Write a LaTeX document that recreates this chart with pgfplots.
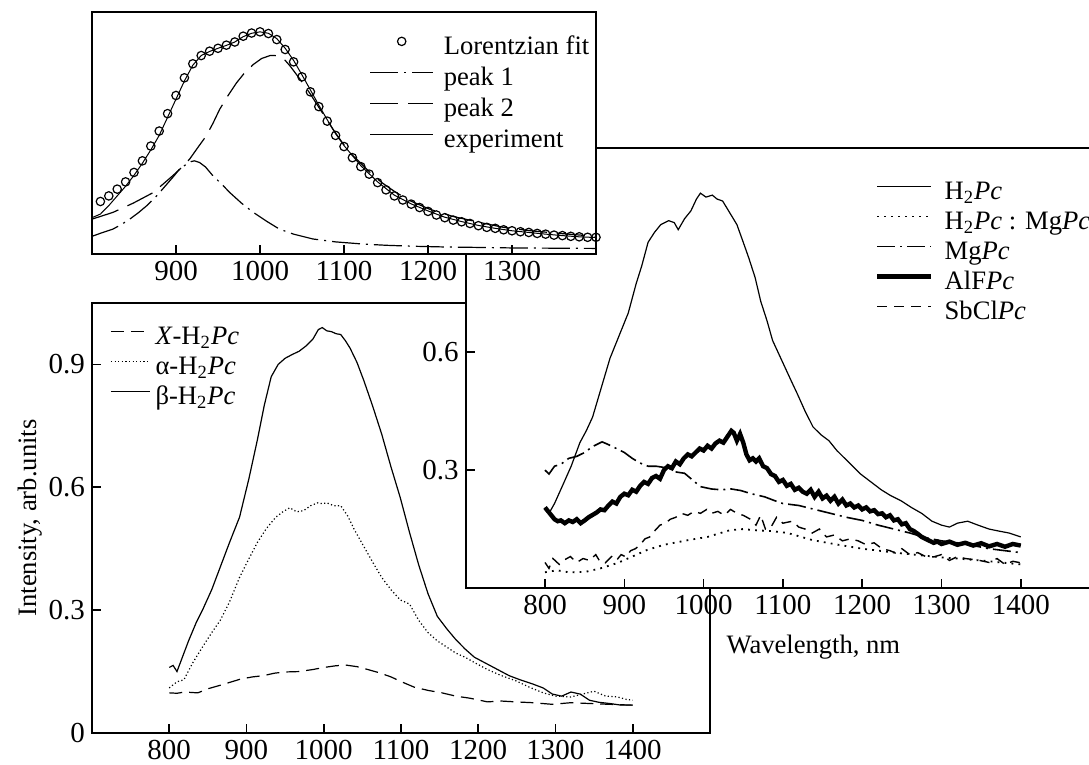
\documentclass[border=0pt]{standalone}
\usepackage{fontspec}
\setmainfont{Liberation Serif}
\usepackage{pgfplots}
\pgfplotsset{compat=1.18}
\newcommand\ff{\fontsize{13.3}{16}\selectfont}
\newcommand\tf{\fontsize{14.5}{17}\selectfont}
\newcommand\Pc{\textit{Pc}}
\newcommand\HH{H\textsubscript{2}\Pc}

\pgfplotsset{
  panel/.style={
    scale only axis, anchor=south west,
    axis line style={line width=1.1pt},
    major tick style={line width=0.8pt, black},
    major tick length=4.5pt,
    tick align=inside,
    xtick pos=bottom, ytick pos=left,
    tick label style={font=\tf},
    label style={font=\ff},
    /pgf/number format/assume math mode=true,
    /pgf/number format/1000 sep={},
    axis background/.style={fill=white},
    legend cell align=left,
    legend style={draw=none, fill=none, font=\ff, anchor=north west,
      inner sep=0pt, row sep=2pt,
      nodes={inner sep=0.5pt, text height=9pt, text depth=3pt}},
  },
  sample/.style={legend image code/.code={\draw[##1] (0pt,3.5pt) -- (#1,3.5pt);}},
  dotsample/.style={legend image code/.code={\draw[##1] plot coordinates {(#1,3.5pt)};}},
  gap/.style={legend style={/tikz/every odd column/.append style={column sep=#1}}},
}

\begin{document}
\begin{tikzpicture}
\useasboundingbox (0,0) rectangle (544.5pt,382.5pt);

% ---------- lower left panel: H2Pc polymorphs
\begin{axis}[panel, at={(46pt,16pt)}, width=309pt, height=215pt,
  xmin=700, xmax=1500, ymin=0, ymax=1.05,
  xtick={800,900,...,1400}, ytick={0,0.3,0.6,0.9},
  ylabel={Intensity, arb.units},
  ylabel style={at={(axis description cs:-0.1,0.5)}, anchor=center},
  legend style={at={(axis description cs:0.029,0.949)}},
  sample=19.5pt, gap=2pt]
\addplot[black, line width=0.6pt, dash pattern=on 6.5pt off 3.5pt] table {
800 0.098
810 0.097
820 0.1
837 0.098
850 0.108
865 0.116
879 0.124
893 0.132
908 0.137
922 0.14
936 0.146
950 0.149
968 0.15
986 0.155
1000 0.16
1015 0.164
1028 0.166
1043 0.162
1057 0.155
1072 0.147
1087 0.137
1102 0.124
1117 0.112
1135 0.104
1153 0.098
1171 0.09
1189 0.085
1212 0.076
1230 0.078
1248 0.076
1270 0.074
1296 0.07
1320 0.074
1344 0.072
1370 0.07
1400 0.068
};
\addlegendentry{\textit{X}-\HH}
\addplot[black, line width=0.6pt, dash pattern=on 0.6pt off 1.2pt] table {
800 0.11
810 0.125
819 0.13
830 0.17
843 0.21
855 0.245
866 0.275
878 0.32
891 0.38
903 0.425
914 0.465
926 0.5
938 0.527
947 0.54
956 0.55
965 0.54
974 0.543
983 0.555
992 0.562
998 0.56
1004 0.562
1013 0.555
1022 0.555
1031 0.53
1040 0.495
1052 0.455
1064 0.415
1075 0.38
1087 0.35
1099 0.325
1111 0.315
1123 0.275
1135 0.245
1147 0.225
1159 0.21
1171 0.195
1183 0.185
1197 0.17
1212 0.155
1230 0.14
1248 0.128
1266 0.112
1284 0.098
1300 0.09
1320 0.088
1335 0.095
1350 0.102
1365 0.09
1380 0.088
1392 0.082
1400 0.08
};
\addlegendentry{α-\HH}
\addplot[black, line width=0.6pt] table {
800 0.16
805 0.165
810 0.15
815 0.175
825 0.225
835 0.27
843 0.30
855 0.35
866 0.405
878 0.465
891 0.527
903 0.62
914 0.715
923 0.80
932 0.87
941 0.90
950 0.915
960 0.925
968 0.932
977 0.945
986 0.962
993 0.985
998 0.99
1004 0.982
1010 0.98
1016 0.975
1022 0.973
1028 0.958
1034 0.94
1043 0.905
1052 0.86
1063 0.80
1075 0.73
1087 0.65
1099 0.575
1111 0.49
1123 0.41
1135 0.34
1147 0.285
1159 0.255
1171 0.228
1183 0.205
1195 0.185
1210 0.17
1225 0.155
1240 0.14
1254 0.13
1270 0.12
1284 0.11
1296 0.095
1308 0.09
1320 0.1
1332 0.095
1344 0.08
1356 0.075
1370 0.072
1385 0.068
1400 0.068
};
\addlegendentry{β-\HH}
\end{axis}

% ---------- right panel: five phthalocyanines
\begin{axis}[panel, at={(232.85pt,88.5pt)}, width=317.2pt, height=220pt,
  xmin=700, xmax=1500, ymin=0, ymax=1.12,
  xtick={800,900,...,1400}, ytick={0.3,0.6,0.9},
  xlabel={Wavelength, nm},
  xlabel style={at={(axis description cs:0.548,0)}, anchor=center, yshift=-29.5pt},
  legend style={at={(axis description cs:0.645,0.927)}},
  sample=27pt, gap=5pt]
\addplot[black, line width=0.6pt] table {
800 0.205
805 0.19
812 0.215
822 0.26
833 0.31
844 0.37
852 0.40
860 0.435
871 0.51
882 0.585
893 0.64
905 0.70
915 0.775
922 0.82
930 0.88
938 0.905
946 0.925
956 0.935
963 0.93
968 0.912
976 0.94
984 0.96
991 0.99
996 1.005
1003 0.995
1011 1.0
1017 0.99
1024 0.985
1033 0.955
1042 0.925
1050 0.88
1057 0.84
1065 0.79
1072 0.73
1080 0.68
1087 0.63
1095 0.595
1103 0.56
1111 0.525
1118 0.495
1128 0.45
1138 0.41
1148 0.39
1158 0.375
1168 0.35
1178 0.33
1188 0.31
1198 0.29
1211 0.27
1224 0.25
1236 0.235
1249 0.222
1262 0.205
1275 0.19
1288 0.17
1300 0.16
1310 0.155
1320 0.165
1333 0.17
1346 0.16
1360 0.15
1372 0.145
1385 0.14
1400 0.13
};
\addlegendentry{\HH}
\addplot[black, line width=0.9pt, dash pattern=on 0.9pt off 2.6pt] table {
800 0.04
815 0.045
830 0.04
851 0.041
870 0.05
892 0.064
910 0.08
929 0.097
950 0.11
981 0.122
1005 0.13
1033 0.147
1050 0.15
1064 0.147
1085 0.145
1106 0.14
1137 0.122
1170 0.11
1200 0.1
1250 0.088
1300 0.078
1350 0.07
1400 0.06
};
\addlegendentry{\HH\ : Mg\Pc}
\addplot[black, line width=0.8pt, dash pattern=on 9pt off 2.5pt on 1pt off 2.5pt] table {
800 0.30
805 0.29
812 0.31
820 0.315
830 0.33
840 0.335
850 0.345
860 0.36
872 0.372
880 0.365
890 0.355
900 0.345
910 0.33
920 0.318
930 0.31
940 0.31
956 0.305
966 0.295
976 0.292
986 0.275
996 0.258
1010 0.252
1022 0.25
1035 0.252
1047 0.248
1060 0.24
1077 0.232
1090 0.222
1100 0.215
1120 0.21
1140 0.2
1160 0.19
1180 0.18
1200 0.172
1220 0.16
1240 0.15
1260 0.14
1280 0.128
1300 0.12
1320 0.115
1340 0.108
1360 0.1
1380 0.095
1400 0.09
};
\addlegendentry{Mg\Pc}
\addplot[black, line width=2.2pt] table {
800 0.205
804 0.195
808 0.185
812 0.175
816 0.17
820 0.172
825 0.165
830 0.172
835 0.168
840 0.175
845 0.165
850 0.172
855 0.18
860 0.186
865 0.192
870 0.2
875 0.198
880 0.21
885 0.22
890 0.215
895 0.232
900 0.24
905 0.236
910 0.25
915 0.245
920 0.26
925 0.27
930 0.265
935 0.28
940 0.285
945 0.278
950 0.3
955 0.31
960 0.305
965 0.322
970 0.315
975 0.33
980 0.34
985 0.335
990 0.345
995 0.355
1000 0.35
1005 0.362
1010 0.355
1015 0.368
1020 0.375
1025 0.37
1030 0.385
1035 0.4
1038 0.395
1042 0.375
1046 0.392
1050 0.37
1054 0.34
1058 0.325
1062 0.33
1066 0.322
1070 0.33
1075 0.31
1080 0.305
1085 0.29
1090 0.285
1095 0.27
1100 0.275
1105 0.26
1110 0.265
1115 0.25
1120 0.255
1125 0.245
1130 0.24
1135 0.25
1140 0.232
1145 0.245
1150 0.228
1155 0.235
1160 0.222
1165 0.232
1170 0.215
1175 0.225
1180 0.21
1185 0.215
1190 0.205
1195 0.21
1200 0.2
1205 0.205
1210 0.195
1215 0.198
1220 0.188
1225 0.19
1230 0.18
1235 0.185
1240 0.172
1245 0.175
1250 0.162
1255 0.165
1260 0.15
1265 0.145
1270 0.138
1275 0.13
1280 0.125
1285 0.12
1290 0.115
1295 0.118
1300 0.112
1310 0.118
1320 0.11
1330 0.115
1340 0.108
1350 0.114
1360 0.106
1370 0.112
1380 0.105
1390 0.112
1400 0.108
};
\addlegendentry{AlF\Pc}
\addplot[black, line width=0.7pt, dash pattern=on 5pt off 3.5pt] table {
800 0.065
805 0.05
810 0.075
818 0.06
824 0.071
832 0.08
840 0.065
848 0.075
856 0.07
864 0.085
870 0.065
876 0.064
884 0.08
890 0.07
896 0.085
902 0.079
908 0.095
914 0.1
920 0.11
926 0.125
932 0.13
939 0.147
945 0.16
952 0.165
958 0.175
965 0.18
972 0.19
980 0.185
988 0.195
996 0.19
1004 0.2
1010 0.19
1018 0.195
1026 0.185
1034 0.2
1042 0.19
1050 0.185
1059 0.175
1066 0.16
1072 0.185
1078 0.15
1085 0.155
1092 0.18
1100 0.165
1112 0.17
1120 0.155
1128 0.15
1137 0.14
1146 0.15
1155 0.13
1165 0.135
1175 0.12
1185 0.125
1195 0.12
1205 0.11
1215 0.115
1225 0.1
1235 0.095
1242 0.089
1250 0.1
1260 0.085
1270 0.09
1280 0.08
1290 0.079
1300 0.085
1310 0.07
1320 0.08
1330 0.075
1346 0.071
1360 0.065
1370 0.075
1380 0.06
1390 0.068
1400 0.064
};
\addlegendentry{SbCl\Pc}
\end{axis}

% ---------- inset: Lorentzian decomposition
\begin{axis}[panel, at={(46pt,255.5pt)}, width=252pt, height=121pt,
  xmin=800, xmax=1400, ymin=0, ymax=1, clip=false,
  xtick={900,1000,...,1300}, ytick=\empty,
  legend style={at={(axis description cs:0.55,0.905)}, row sep=2.5pt},
  sample=31.5pt, gap=4.5pt]
\addplot[black, only marks, mark=o, mark size=2.1pt, mark options={line width=0.6pt},
  dotsample=15.75pt] table {
810 0.217
820 0.240
830 0.268
840 0.298
850 0.337
860 0.385
870 0.446
880 0.508
890 0.580
900 0.655
910 0.728
920 0.786
930 0.820
940 0.838
950 0.850
960 0.863
970 0.876
980 0.900
990 0.913
1000 0.918
1010 0.911
1020 0.886
1030 0.845
1040 0.794
1050 0.732
1060 0.670
1070 0.609
1080 0.549
1090 0.490
1100 0.444
1110 0.398
1120 0.361
1130 0.330
1140 0.295
1150 0.265
1160 0.240
1170 0.223
1180 0.206
1190 0.192
1200 0.176
1210 0.161
1220 0.150
1230 0.140
1240 0.133
1250 0.126
1260 0.117
1270 0.110
1280 0.106
1290 0.100
1300 0.096
1310 0.092
1320 0.089
1330 0.085
1340 0.082
1350 0.078
1360 0.076
1370 0.073
1380 0.071
1390 0.069
1400 0.069
};
\addlegendentry{Lorentzian fit}
\addplot[black, line width=0.6pt, dash pattern=on 14pt off 3pt on 1pt off 3pt] table {
800 0.073
812 0.088
825 0.103
835 0.122
845 0.144
855 0.17
865 0.199
877 0.24
889 0.288
897 0.32
904 0.350
912 0.37
918 0.382
922 0.385
928 0.378
935 0.36
944 0.323
954 0.29
964 0.254
978 0.21
992 0.172
1008 0.135
1023 0.103
1040 0.082
1063 0.062
1090 0.05
1123 0.041
1150 0.036
1182 0.032
1220 0.029
1262 0.027
1300 0.025
1350 0.024
1400 0.023
};
\addlegendentry{peak 1}
\addplot[black, line width=0.6pt, dash pattern=on 14pt off 5pt] table {
800 0.144
825 0.172
849 0.21
873 0.254
896 0.323
906 0.355
916 0.391
926 0.44
936 0.488
944 0.54
952 0.598
962 0.655
972 0.707
982 0.75
992 0.783
1002 0.808
1012 0.82
1018 0.82
1024 0.815
1030 0.80
1036 0.776
1047 0.725
1059 0.666
1073 0.59
1087 0.515
1097 0.465
1107 0.419
1120 0.375
1131 0.337
1145 0.295
1162 0.254
1180 0.218
1202 0.185
1230 0.155
1262 0.130
1290 0.11
1322 0.096
1360 0.084
1400 0.073
};
\addlegendentry{peak 2}
\addplot[black, line width=0.5pt] table {
800 0.15
810 0.165
820 0.20
830 0.24
840 0.28
850 0.325
860 0.375
870 0.43
880 0.49
890 0.565
900 0.64
910 0.715
920 0.78
930 0.82
940 0.837
950 0.85
960 0.862
970 0.876
980 0.898
990 0.912
1000 0.918
1010 0.912
1020 0.89
1030 0.85
1040 0.80
1050 0.74
1060 0.678
1070 0.615
1080 0.555
1090 0.497
1100 0.448
1120 0.365
1140 0.298
1160 0.243
1180 0.207
1200 0.178
1220 0.152
1240 0.134
1260 0.118
1280 0.106
1300 0.096
1320 0.089
1340 0.082
1360 0.076
1380 0.071
1400 0.068
};
\addlegendentry{experiment}
\end{axis}
\end{tikzpicture}
\end{document}
